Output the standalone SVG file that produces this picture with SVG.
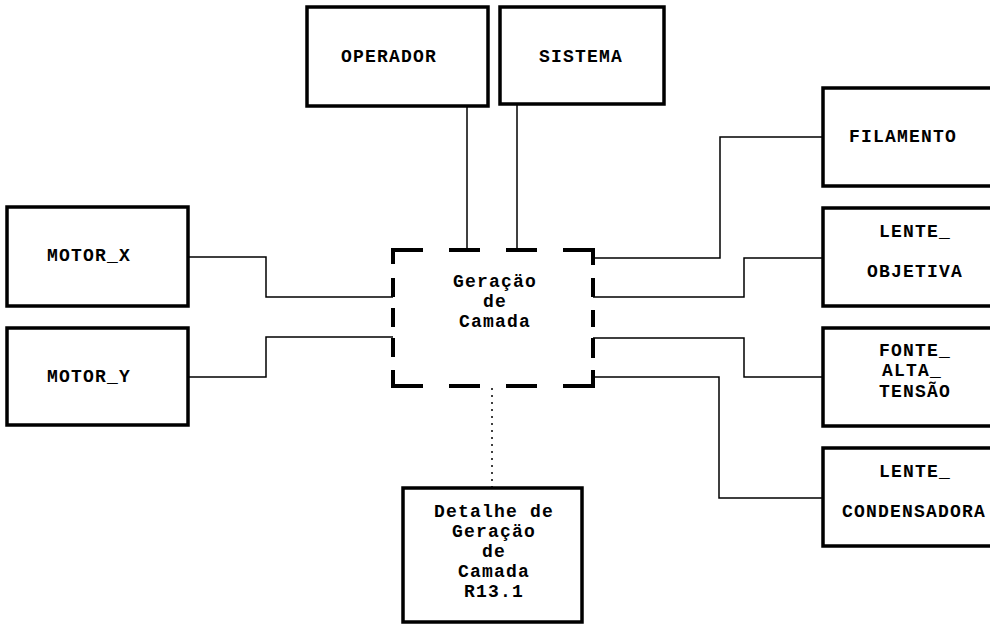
<svg xmlns="http://www.w3.org/2000/svg" width="990" height="625" viewBox="0 0 990 625">
<style>
.box{fill:#fff;stroke:#000;stroke-width:3.5}
.t{font-family:"Liberation Mono","Courier New",monospace;font-weight:bold;font-size:18px;letter-spacing:1.2px;fill:#000;text-anchor:middle}
.c{fill:none;stroke:#000;stroke-width:1.5}
.d{fill:none;stroke:#000;stroke-width:4;stroke-linecap:butt}
.dot{fill:none;stroke:#000;stroke-width:1.5;stroke-dasharray:2 5}
</style>
<rect width="990" height="625" fill="#fff"/>
<g id="connectors">
<path class="c" d="M467 106 V250"/>
<path class="c" d="M517 104 V250"/>
<path class="c" d="M188 257 H266 V297 H393"/>
<path class="c" d="M188 377 H266 V337 H393"/>
<path class="c" d="M593 258 H720 V137 H823"/>
<path class="c" d="M593 297 H744 V258 H823"/>
<path class="c" d="M593 338 H744 V377 H823"/>
<path class="c" d="M593 377 H719 V498 H823"/>
<path class="dot" d="M492 388 V488"/>
</g>
<g id="operador"><rect class="box" x="307" y="7" width="181" height="99"/><text class="t" x="389" y="62">OPERADOR</text></g>
<g id="sistema"><rect class="box" x="500" y="7" width="164" height="97"/><text class="t" x="581" y="62">SISTEMA</text></g>
<g id="motor_x"><rect class="box" x="7" y="207" width="181" height="99"/><text class="t" x="89" y="261">MOTOR_X</text></g>
<g id="motor_y"><rect class="box" x="7" y="328" width="181" height="97"/><text class="t" x="89" y="382">MOTOR_Y</text></g>
<g id="geracao">
<path class="d" d="M393 264 V250 H423 M449 250 H480 M506 250 H537 M563 250 H593 V265 M393 278 V297 M393 308 V327 M393 338 V357 M393 370 V386 H423 M449 386 H480 M506 386 H537 M563 386 H593 V370 M593 278 V297 M593 310 V327 M593 338 V358"/>
<text class="t" x="495" y="287">Geraçäo</text>
<text class="t" x="495" y="307">de</text>
<text class="t" x="495" y="327">Camada</text>
</g>
<g id="filamento"><path class="box" d="M992 88 H823 V186 H992"/><text class="t" x="903" y="142">FILAMENTO</text></g>
<g id="lente_objetiva"><path class="box" d="M992 208 H823 V306 H992"/><text class="t" x="915" y="237">LENTE_</text><text class="t" x="915" y="277">OBJETIVA</text></g>
<g id="fonte"><path class="box" d="M992 328 H823 V426 H992"/><text class="t" x="915" y="356">FONTE_</text><text class="t" x="912" y="376">ALTA_</text><text class="t" x="915" y="397">TENSÃO</text></g>
<g id="lente_condensadora"><path class="box" d="M992 448 H823 V546 H992"/><text class="t" x="915" y="477">LENTE_</text><text class="t" x="914" y="517">CONDENSADORA</text></g>
<g id="detalhe"><rect class="box" x="403" y="488" width="179" height="134"/>
<text class="t" x="494" y="517">Detalhe de</text>
<text class="t" x="494" y="537">Geraçäo</text>
<text class="t" x="494" y="557">de</text>
<text class="t" x="494" y="577">Camada</text>
<text class="t" x="494" y="597">R13.1</text>
</g>
</svg>
